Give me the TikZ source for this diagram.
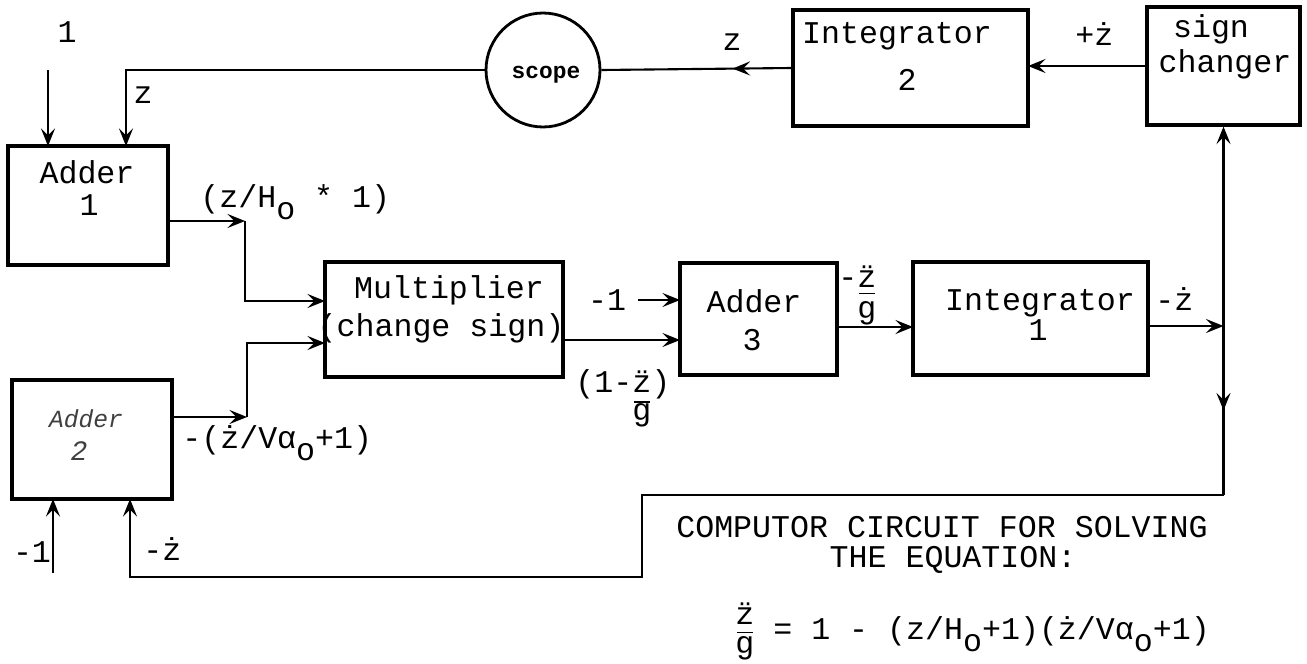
\documentclass[tikz,border=0pt]{standalone}
\usepackage{fontspec}
\newfontfamily\tw{Liberation Mono}
\usetikzlibrary{arrows.meta,decorations.markings,calc}
\newcommand\lo[1]{\raisebox{-7pt}{#1}}
% fraction, numerator on the baseline: #1 bar drop, #2 g drop
\newcommand\frt[2]{\makebox[0.6em]{\"z}\llap{\makebox[0.6em]{\rule[-#1]{0.5em}{0.7pt}}}\llap{\makebox[0.6em]{\raisebox{-#2}{g}}}}
% fraction, centred on the line
\newcommand\frc{\makebox[0.6em]{\raisebox{8.5pt}{\"z}}\llap{\makebox[0.6em]{\rule[3.4pt]{0.5em}{0.7pt}}}\llap{\makebox[0.6em]{\raisebox{-8pt}{g}}}}
\tikzset{
  box/.style={draw, line width=1.8pt, inner sep=0pt},
  txt/.style={font=\tw\fontsize{18}{20}\selectfont, inner sep=0pt, anchor=base},
  txtw/.style={txt, anchor=base west},
  ln/.style={line width=1.2pt},
  tip/.style={-{Stealth[length=10pt,width=8pt,inset=4pt]}},
  arr/.style={ln, tip},
  midarr/.style={ln, postaction={decorate}, decoration={markings, mark=at position #1 with {\arrow{Stealth[length=10pt,width=8pt,inset=4pt]}}}}
}
\begin{document}
\begin{tikzpicture}[x=0.02cm,y=-0.02cm]
\fill[white] (0,0) rectangle (1307,663);
\useasboundingbox (0,0) rectangle (1307,663);

% blocks
\node[box, minimum width=3.2cm, minimum height=2.38cm] (a1) at (88,205.5) {};
\node[box, minimum width=3.2cm, minimum height=2.38cm] (a2) at (92,439.5) {};
\node[box, minimum width=4.76cm, minimum height=2.3cm] (mult) at (444,319.5) {};
\node[box, minimum width=3.14cm, minimum height=2.24cm] (a3) at (758.5,319) {};
\node[box, minimum width=4.7cm, minimum height=2.26cm] (i1) at (1030.5,318.5) {};
\node[box, minimum width=4.7cm, minimum height=2.32cm] (i2) at (910.5,68) {};
\node[box, minimum width=3.06cm, minimum height=2.36cm] (sc) at (1223.5,66) {};
\node[circle, draw, line width=1.6pt, minimum size=2.28cm, inner sep=0pt] (scope) at (543,70) {};

% texts in blocks
\node[txt] (a1t1) at (87,183) {Adder};
\node[txt] (a1t2) at (89,215) {1};
\node[txt, font=\tw\itshape\fontsize{14}{16}\selectfont, text=black!75] (a2t1) at (86,427) {Adder};
\node[txt, font=\tw\itshape\fontsize{16}{18}\selectfont, text=black!75] (a2t2) at (79,460) {2};
\node[txt] (mt1) at (449,298) {Multiplier};
\node[txt] (mt2) at (441,336) {(change sign)};
\node[txt] (a3t1) at (754,312) {Adder};
\node[txt] (a3t2) at (752,350) {3};
\node[txt] (i1t1) at (1040,310) {Integrator};
\node[txt] (i1t2) at (1038,340) {1};
\node[txt] (i2t1) at (897,43) {Integrator};
\node[txt] (i2t2) at (907,90) {2};
\node[txt] (sct1) at (1211,37) {sign};
\node[txt] (sct2) at (1225,72) {changer};
\node[txt, font=\tw\bfseries\fontsize{13}{15}\selectfont] (scopet) at (546,78) {scope};

% signal labels
\node[txt] (l1) at (67,42) {1};
\node[txt] (lz1) at (143,103) {z};
\node[txtw] (lza) at (200,207) {(z/H\lo{o} * 1)};
\node[txtw] (lzd) at (182,448) {-(ż/Vα\lo{o}+1)};
\node[txt] (lm1) at (607,310) {-1};
\node[txtw] (lq) at (575,392) {(1-\frt{6pt}{16pt})};
\node[txtw] (lzg) at (838,287) {-\frt{4pt}{18pt}};
\node[txtw] (lzd2) at (1155,310) {-ż};
\node[txtw] (lzd3) at (1075,45) {+ż};
\node[txt] (lz2) at (732,50) {z};
\node[txt] (lm2) at (32,562) {-1};
\node[txtw] (lzd4) at (143,560) {-ż};

% caption
\node[txt] (cap1) at (942,537) {COMPUTOR CIRCUIT FOR SOLVING};
\node[txt] (cap2) at (953,567) {THE EQUATION:};
\node[txtw] (eq) at (735,639) {\frc{} = 1 - (z/H\lo{o}+1)(ż/Vα\lo{o}+1)};

% coordinates
\coordinate (in1) at (48,70);
\coordinate (a1in1) at (48,146);
\coordinate (a1in2) at (126,146);
\coordinate (a1out) at (168,221);
\coordinate (j1) at (245,221);
\coordinate (m1) at (325,301);
\coordinate (a2out) at (172,417);
\coordinate (j2) at (247,417);
\coordinate (m2) at (325,343);
\coordinate (n1) at (638,300);
\coordinate (a3in1) at (680,300);
\coordinate (mout) at (563,340);
\coordinate (a3in2) at (680,340);
\coordinate (a3out) at (837,327);
\coordinate (i1in) at (913,327);
\coordinate (i1out) at (1148,326);
\coordinate (j3) at (1223.5,326);
\coordinate (c1) at (1223.5,495);
\coordinate (c2) at (642,495);
\coordinate (c3) at (642,577);
\coordinate (c4) at (130,577);
\coordinate (a2in2) at (130,499);
\coordinate (n2) at (53,573);
\coordinate (a2in1) at (53,499);
\coordinate (i2in) at (1028,66);

% connectors
\draw[arr] (in1) -- (a1in1);
\draw[arr] (scope.west) -| (a1in2);
\draw[midarr=0.31] (i2.west) -- (scope.east);
\draw[arr] (sc.west) -- (i2in);
\draw[arr] (a1out) -- (j1);
\draw[arr] (j1) |- (m1);
\draw[arr] (a2out) -- (j2);
\draw[arr] (j2) |- (m2);
\draw[arr] (n1) -- (a3in1);
\draw[arr] (mout) -- (a3in2);
\draw[arr] (a3out) -- (i1in);
\draw[arr] (i1out) -- (j3);
\draw[arr] (j3) -- (sc.south);
\draw[midarr=0.5] (j3) -- (c1);
\draw[arr] (c1) -- (c2) -- (c3) -- (c4) -- (a2in2);
\draw[arr] (n2) -- (a2in1);
\end{tikzpicture}
\end{document}
